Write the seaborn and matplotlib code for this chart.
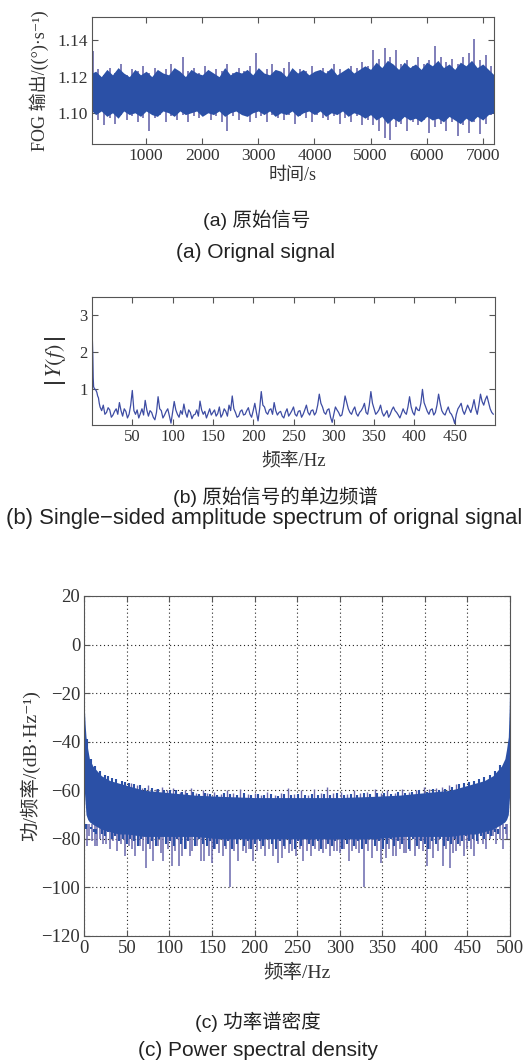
import matplotlib
matplotlib.use("Agg")
import matplotlib.pyplot as plt
import seaborn as sns

# ---------------- (a) 原始信号 ----------------
# 尖峰: 采样时刻 (s) 及上/下峰值
t_a = [50, 150, 250, 350, 450, 550, 650, 750, 850, 950,
       1050, 1150, 1250, 1350, 1450, 1550, 1650, 1750, 1850, 1950,
       2050, 2150, 2250, 2350, 2450, 2550, 2650, 2750, 2850, 2950,
       3050, 3150, 3250, 3350, 3450, 3550, 3650, 3750, 3850, 3950,
       4050, 4150, 4250, 4350, 4450, 4550, 4650, 4750, 4850, 4950,
       5050, 5150, 5250, 5350, 5450, 5550, 5650, 5750, 5850, 5950,
       6050, 6150, 6250, 6350, 6450, 6550, 6650, 6750, 6850, 6950,
       7050, 7150]
hi_a = [1.134, 1.124, 1.121, 1.125, 1.122, 1.127, 1.121, 1.124, 1.123, 1.126,
        1.122, 1.125, 1.121, 1.124, 1.127, 1.122, 1.131, 1.123, 1.125, 1.122,
        1.126, 1.121, 1.124, 1.123, 1.127, 1.122, 1.125, 1.123, 1.126, 1.133,
        1.122, 1.124, 1.127, 1.122, 1.125, 1.128, 1.122, 1.124, 1.123, 1.126,
        1.122, 1.125, 1.123, 1.127, 1.124, 1.122, 1.126, 1.125, 1.128, 1.126,
        1.135, 1.130, 1.136, 1.131, 1.135, 1.127, 1.129, 1.126, 1.131, 1.127,
        1.129, 1.137, 1.131, 1.128, 1.130, 1.127, 1.131, 1.133, 1.141, 1.129,
        1.132, 1.126]
lo_a = [1.101, 1.096, 1.093, 1.097, 1.094, 1.099, 1.096, 1.098, 1.095, 1.097,
        1.090, 1.097, 1.099, 1.095, 1.098, 1.096, 1.099, 1.095, 1.098, 1.097,
        1.099, 1.096, 1.098, 1.095, 1.090, 1.098, 1.096, 1.099, 1.095, 1.097,
        1.098, 1.095, 1.099, 1.097, 1.096, 1.099, 1.094, 1.098, 1.097, 1.095,
        1.099, 1.097, 1.096, 1.098, 1.094, 1.097, 1.095, 1.098, 1.093, 1.096,
        1.093, 1.090, 1.086, 1.085, 1.092, 1.094, 1.090, 1.095, 1.093, 1.096,
        1.089, 1.092, 1.094, 1.090, 1.095, 1.087, 1.093, 1.089, 1.095, 1.088,
        1.094, 1.099]
# 实心主带 (锯齿边缘)
band_t_a = [35, 100, 200, 300, 400, 500, 600, 700, 800, 900, 1000,
            1100, 1200, 1300, 1400, 1500, 1600, 1700, 1800, 1900, 2000,
            2100, 2200, 2300, 2400, 2500, 2600, 2700, 2800, 2900, 3000,
            3100, 3200, 3300, 3400, 3500, 3600, 3700, 3800, 3900, 4000,
            4100, 4200, 4300, 4400, 4500, 4600, 4700, 4800, 4900, 5000,
            5100, 5200, 5300, 5400, 5500, 5600, 5700, 5800, 5900, 6000,
            6100, 6200, 6300, 6400, 6500, 6600, 6700, 6800, 6900, 7000,
            7100, 7200]
band_hi_a = [1.122,
             1.123, 1.120, 1.124, 1.121, 1.125, 1.122, 1.120, 1.124, 1.121, 1.123,
             1.120, 1.124, 1.122, 1.121, 1.125, 1.123, 1.120, 1.124, 1.122, 1.121,
             1.124, 1.122, 1.120, 1.125, 1.121, 1.123, 1.122, 1.124, 1.121, 1.125,
             1.122, 1.121, 1.124, 1.123, 1.120, 1.125, 1.122, 1.124, 1.121, 1.123,
             1.124, 1.122, 1.125, 1.121, 1.123, 1.125, 1.122, 1.124, 1.126, 1.124,
             1.128, 1.125, 1.129, 1.127, 1.124, 1.128, 1.125, 1.127, 1.124, 1.128,
             1.126, 1.129, 1.125, 1.127, 1.124, 1.128, 1.126, 1.129, 1.125, 1.127,
             1.124, 1.121]
band_lo_a = [1.101,
             1.099, 1.101, 1.098, 1.100, 1.097, 1.101, 1.099, 1.100, 1.098, 1.101,
             1.099, 1.098, 1.101, 1.100, 1.098, 1.101, 1.099, 1.100, 1.101, 1.098,
             1.100, 1.099, 1.101, 1.098, 1.100, 1.101, 1.099, 1.098, 1.100, 1.101,
             1.099, 1.101, 1.098, 1.100, 1.099, 1.101, 1.098, 1.100, 1.101, 1.099,
             1.101, 1.098, 1.100, 1.099, 1.101, 1.098, 1.100, 1.099, 1.097, 1.099,
             1.096, 1.098, 1.094, 1.097, 1.095, 1.098, 1.096, 1.097, 1.095, 1.098,
             1.096, 1.097, 1.095, 1.098, 1.096, 1.094, 1.097, 1.095, 1.098, 1.096,
             1.099, 1.100]

# ---------------- (b) 单边频谱 ----------------
f_b = [0, 0.5, 1, 1.5, 2, 3, 4, 5, 6, 7, 8, 9, 10, 11, 12,
       14, 16, 18, 20, 22, 24, 26, 28, 30, 32,
       34, 36, 38, 40, 42, 44, 46, 48, 50, 52,
       54, 56, 58, 60, 62, 64, 66, 68, 70, 72,
       74, 76, 78, 80, 82, 84, 86, 88, 90, 92,
       94, 96, 98, 100, 102, 104, 106, 108, 110, 112,
       114, 116, 118, 120, 122, 124, 126, 128, 130, 132,
       134, 136, 138, 140, 142, 144, 146, 148, 150, 152,
       154, 156, 158, 160, 162, 164, 166, 168, 170, 172,
       174, 176, 178, 180, 182, 184, 186, 188, 190, 192,
       194, 196, 198, 200, 202, 204, 206, 208, 210, 212,
       214, 216, 218, 220, 222, 224, 226, 228, 230, 232,
       234, 236, 238, 240, 242, 244, 246, 248, 250, 252,
       254, 256, 258, 260, 262, 264, 266, 268, 270, 272,
       274, 276, 278, 280, 282, 284, 286, 288, 290, 292,
       294, 296, 298, 300, 302, 304, 306, 308, 310, 312,
       314, 316, 318, 320, 322, 324, 326, 328, 330, 332,
       334, 336, 338, 340, 342, 344, 346, 348, 350, 352,
       354, 356, 358, 360, 362, 364, 366, 368, 370, 372,
       374, 376, 378, 380, 382, 384, 386, 388, 390, 392,
       394, 396, 398, 400, 402, 404, 406, 408, 410, 412,
       414, 416, 418, 420, 422, 424, 426, 428, 430, 432,
       434, 436, 438, 440, 442, 444, 446, 448, 450, 452,
       454, 456, 458, 460, 462, 464, 466, 468, 470, 472,
       474, 476, 478, 480, 482, 484, 486, 488, 490, 492,
       494, 496, 498]
amp_b = [2.35, 2.3, 1.9, 1.3, 1.05, 1.0, 0.98, 0.95, 0.9, 0.8, 0.75, 0.6, 0.5, 0.45, 0.4,
         0.55, 0.30, 0.35, 0.48, 0.42, 0.22, 0.28, 0.38, 0.45, 0.30,
         0.62, 0.40, 0.25, 0.45, 0.38, 0.20, 0.30, 0.55, 0.95, 0.40,
         0.30, 0.42, 0.20, 0.32, 0.45, 0.28, 0.68, 0.42, 0.25, 0.40,
         0.35, 0.22, 0.15, 0.35, 0.78, 0.45, 0.40, 0.20, 0.28, 0.38,
         0.45, 0.25, 0.06, 0.35, 0.65, 0.42, 0.30, 0.22, 0.40, 0.30,
         0.58, 0.35, 0.22, 0.42, 0.35, 0.18, 0.28, 0.30, 0.42, 0.25,
         0.66, 0.42, 0.30, 0.38, 0.20, 0.32, 0.45, 0.28, 0.35, 0.42,
         0.25, 0.32, 0.50, 0.22, 0.30, 0.45, 0.38, 0.25, 0.55, 0.40,
         0.80, 0.45, 0.35, 0.22, 0.25, 0.38, 0.42, 0.28, 0.30, 0.40,
         0.48, 0.30, 0.22, 0.40, 0.60, 0.35, 0.12, 0.45, 0.92, 0.55,
         0.50, 0.35, 0.30, 0.42, 0.45, 0.30, 0.62, 0.40, 0.28, 0.35,
         0.38, 0.25, 0.20, 0.35, 0.45, 0.25, 0.32, 0.40, 0.50, 0.30,
         0.25, 0.38, 0.40, 0.22, 0.30, 0.42, 0.55, 0.35, 0.28, 0.40,
         0.42, 0.28, 0.35, 0.55, 0.85, 0.60, 0.50, 0.35, 0.30, 0.42,
         0.45, 0.22, 0.08, 0.30, 0.50, 0.42, 0.35, 0.25, 0.28, 0.50,
         0.80, 0.62, 0.45, 0.35, 0.30, 0.42, 0.50, 0.32, 0.25, 0.35,
         0.40, 0.48, 0.60, 0.35, 0.30, 0.55, 0.92, 0.60, 0.45, 0.30,
         0.35, 0.42, 0.55, 0.35, 0.25, 0.32, 0.40, 0.22, 0.30, 0.42,
         0.50, 0.40, 0.35, 0.28, 0.20, 0.32, 0.45, 0.35, 0.30, 0.50,
         0.78, 0.50, 0.35, 0.28, 0.50, 0.42, 0.40, 0.60, 0.98, 0.62,
         0.50, 0.38, 0.30, 0.42, 0.45, 0.28, 0.35, 0.55, 0.85, 0.60,
         0.40, 0.32, 0.28, 0.40, 0.50, 0.35, 0.30, 0.20, 0.05, 0.30,
         0.45, 0.52, 0.60, 0.40, 0.30, 0.42, 0.55, 0.45, 0.35, 0.50,
         0.70, 0.45, 0.30, 0.55, 0.85, 0.65, 0.55, 0.70, 0.80, 0.62,
         0.45, 0.35, 0.30]

# ---------------- (c) 功率谱密度 ----------------
band_f = [0, 1, 2, 4, 6, 10, 15, 20, 30, 40, 50, 70, 100, 130, 160, 200, 250,
          300, 340, 370, 400, 430, 450, 460, 470, 480, 485, 490, 494, 496, 498, 499, 500]
band_hi = [-26, -33, -38, -43, -47, -50, -52, -54, -56, -57, -58, -60, -61, -62, -62.5, -63, -63,
           -63, -62.5, -62, -61, -60, -58, -57, -56, -54, -52, -50, -47, -43, -38, -27, -8]
band_lo = [-60, -65, -70, -72, -73, -74, -75, -76, -77, -78, -78, -79, -79, -79, -80, -80, -80,
           -80, -80, -79, -79, -79, -78, -78, -77, -76, -75, -74, -73, -72, -70, -65, -60]
# 向下的长尖峰
down_f = [1, 3, 6, 9, 12, 15, 19, 22, 26, 30,
          34, 38, 43, 48, 52, 56, 60, 65, 69, 72,
          77, 81, 86, 90, 93, 98, 103, 107, 111, 115,
          120, 124, 127, 132, 137, 141, 146, 150, 154, 158,
          163, 167, 171, 176, 181, 186, 190, 194, 198, 203,
          208, 212, 217, 222, 227, 232, 236, 240, 244, 249,
          253, 257, 262, 266, 271, 276, 280, 284, 288, 293,
          297, 300, 305, 311, 315, 319, 323, 329, 333, 338,
          344, 349, 354, 358, 362, 366, 371, 375, 378, 383,
          388, 393, 398, 402, 406, 410, 415, 421, 425, 429,
          433, 437, 441, 446, 450, 454, 458, 463, 468, 472,
          476, 480, 484, 488, 492, 495, 497, 499]
down_v = [-76, -83, -79, -81, -83, -83, -80, -82, -82, -84,
          -81, -85, -82, -87, -83, -84, -87, -83, -85, -92,
          -84, -89, -83, -86, -89, -84, -91, -85, -91, -87,
          -84, -87, -85, -83, -89, -89, -87, -90, -84, -86,
          -87, -84, -100, -85, -89, -85, -86, -84, -89, -85,
          -84, -87, -84, -87, -90, -88, -84, -86, -85, -87,
          -84, -89, -85, -87, -84, -85, -86, -84, -87, -85,
          -85, -86, -84, -89, -85, -84, -86, -100, -85, -88,
          -85, -90, -88, -84, -87, -87, -84, -86, -86, -85,
          -87, -84, -85, -91, -84, -88, -85, -91, -84, -92,
          -86, -85, -83, -87, -84, -84, -87, -82, -82, -84,
          -80, -79, -82, -80, -84, -78, -80, -74]
# 下边缘的短毛刺
down2_f = [2, 5, 8, 11, 14, 17, 21, 24, 28, 32,
           36, 41, 46, 50, 54, 58, 63, 67, 75, 79,
           84, 88, 96, 101, 105, 109, 113, 118, 122, 130,
           135, 139, 144, 148, 152, 156, 161, 165, 169, 174,
           179, 184, 188, 192, 196, 201, 206, 210, 215, 220,
           225, 230, 234, 238, 242, 247, 251, 255, 260, 264,
           269, 274, 278, 282, 286, 291, 295, 303, 308, 313,
           317, 321, 326, 331, 336, 341, 346, 351, 356, 360,
           364, 369, 373, 381, 386, 391, 396, 400, 404, 408,
           413, 418, 423, 427, 431, 435, 439, 444, 448, 452,
           456, 461, 466, 470, 474, 478, 482, 486, 490, 494]
down2_v = [-74, -76, -75, -77, -78, -76, -78, -79, -77, -80,
           -79, -81, -80, -82, -80, -81, -83, -80, -82, -81,
           -83, -80, -82, -81, -83, -80, -82, -84, -81, -83,
           -80, -82, -83, -81, -84, -82, -80, -83, -81, -84,
           -82, -80, -83, -81, -84, -82, -81, -83, -80, -82,
           -84, -81, -83, -80, -82, -84, -81, -83, -80, -82,
           -83, -81, -84, -80, -82, -83, -81, -84, -82, -80,
           -83, -81, -84, -82, -80, -83, -81, -84, -82, -80,
           -83, -81, -82, -84, -80, -83, -81, -82, -84, -81,
           -82, -80, -83, -81, -82, -80, -82, -81, -79, -81,
           -80, -81, -79, -80, -78, -79, -77, -78, -76, -75]
# 上边缘的毛刺
up_f = [55, 62, 68, 75, 84, 91, 97, 104, 112, 118,
        125, 131, 139, 144, 152, 160, 168, 175, 183, 192,
        200, 207, 215, 224, 231, 239, 246, 255, 263, 270,
        278, 285, 292, 301, 309, 317, 324, 332, 341, 348,
        356, 365, 373, 381, 390, 399, 405, 413, 420, 428, 436]
up_v = [-57, -58, -59, -58, -59.5, -58.5, -60, -59, -60.5, -60,
        -59, -61, -60, -61, -60.5, -61.5, -60, -61, -59.5, -61.5,
        -61, -62, -60.5, -62, -61, -59, -61.5, -60, -62, -59.5,
        -61, -58.5, -61, -60.5, -61.5, -60, -61, -60.5, -59.5, -61,
        -60, -61, -59.5, -60.5, -60, -58.5, -59.5, -59, -58.5, -58, -57.5]
up2_f = [3, 8, 13, 18, 24, 28, 33, 37, 44, 48,
         53, 58, 65, 71, 79, 87, 94, 101, 108, 115,
         121, 128, 135, 142, 148, 156, 164, 171, 179, 187,
         196, 204, 211, 219, 227, 235, 243, 251, 259, 267,
         274, 282, 289, 297, 305, 313, 320, 328, 336, 344,
         352, 360, 369, 377, 385, 393, 402, 410, 417, 424,
         432, 440, 446, 452, 458, 464, 470, 476, 482, 488]
up2_v = [-39, -47, -50, -52, -53.5, -54, -55, -55.5, -56, -56.5,
         -57, -57.5, -58, -59, -59, -59.5, -60, -60, -60, -60.5,
         -61, -60.5, -61.5, -61, -61.5, -62, -61, -61.5, -62, -61,
         -62, -61.5, -62, -61.5, -62.5, -61.5, -62, -61.5, -62, -61.5,
         -62, -61.5, -62, -61, -62, -61.5, -62, -61, -61.5, -61,
         -61, -61.5, -60.5, -61, -60.5, -60, -60.5, -59.5, -60, -59.5,
         -58.5, -57.5, -57, -56.5, -56, -55.5, -54.5, -53.5, -52, -49.5]

a_xticks = [1000, 2000, 3000, 4000, 5000, 6000, 7000]
a_yticks = [1.10, 1.12, 1.14]
b_xticks = [50, 100, 150, 200, 250, 300, 350, 400, 450]
b_yticks = [1, 2, 3]
c_xticks = [0, 50, 100, 150, 200, 250, 300, 350, 400, 450, 500]
c_yticks = [-120, -100, -80, -60, -40, -20, 0, 20]

sns.set_theme(style="white")
plt.rcParams['font.family'] = ['Liberation Serif', 'DejaVu Serif', 'Noto Sans CJK SC']
plt.rcParams['mathtext.fontset'] = 'stix'
plt.rcParams['axes.unicode_minus'] = True

W, H = 529, 1064
fig = plt.figure(figsize=(W / 100, H / 100), dpi=100)


def rect(l, t, r, b):
    return [l / W, 1 - b / H, (r - l) / W, (b - t) / H]


BLUE = '#2b50a6'
SPIKE = '#6a68ad'
FRAME = '#555555'
TXT = '#333333'
CAP = ['Liberation Sans', 'Noto Sans CJK SC']


def style_axes(ax, size):
    for s in ax.spines.values():
        s.set_color(FRAME)
        s.set_linewidth(0.8)
        s.set_zorder(5)
    ax.tick_params(direction='in', length=4, width=0.8, colors=FRAME,
                   labelcolor=TXT, labelsize=size, top=True, right=True,
                   bottom=True, left=True, pad=3)


def caption(x, y, s, size):
    fig.text(x / W, 1 - y / H, s, ha='center', va='center', fontsize=size,
             family=CAP, color='#222222')


# ---- 图 (a) ----
ax1 = fig.add_axes(rect(92, 17, 494, 143.5))
ax1.vlines(t_a, lo_a, hi_a, color=SPIKE, linewidth=1.2, zorder=1)
ax1.fill_between(band_t_a, band_lo_a, band_hi_a, color=BLUE, linewidth=0, zorder=2)
ax1.set_xlim(35, 7200)
ax1.set_ylim(1.083, 1.153)
ax1.set_xticks(a_xticks)
ax1.set_yticks(a_yticks)
ax1.set_yticklabels(['%.2f' % v for v in a_yticks])
style_axes(ax1, 12.5)
ax1.set_xlabel('时间/s', fontsize=13, color=TXT, va='center')
ax1.xaxis.set_label_coords(0.5, (143.5 - 175) / 126.5)
ax1.set_ylabel('FOG 输出/((°)·s⁻¹)', fontsize=13, color=TXT, va='center')
ax1.yaxis.set_label_coords((39 - 92) / 402, 0.5)
caption(257, 220, '(a) 原始信号', 14)
caption(256, 253, '(a) Orignal signal', 15)

# ---- 图 (b) ----
ax2 = fig.add_axes(rect(92, 297, 495, 425.3))
sns.lineplot(x=f_b, y=amp_b, ax=ax2, color='#3d4ca3', linewidth=0.9)
ax2.set_xlim(0, 500)
ax2.set_ylim(0, 3.5)
ax2.set_xticks(b_xticks)
ax2.set_yticks(b_yticks)
style_axes(ax2, 12)
ax2.set_xlabel('频率/Hz', fontsize=13.5, color=TXT, va='center')
ax2.xaxis.set_label_coords(0.5, (425.3 - 462) / 128.3)
ax2.set_ylabel(r'$\left|\,Y(f)\,\right|$', fontsize=16, color=TXT, va='center')
ax2.yaxis.set_label_coords((56 - 92) / 403, 0.5)
caption(275, 497, '(b) 原始信号的单边频谱', 14)
caption(264, 519, '(b) Single−sided amplitude spectrum of orignal signal', 15.8)

# ---- 图 (c) ----
ax3 = fig.add_axes(rect(84.3, 596, 510, 936))
ax3.grid(True, color='#222222', linestyle=(0, (1, 2.5)), linewidth=0.8)
ax3.set_axisbelow(True)
ax3.vlines(down_f, down_v, [-74] * len(down_f), color=SPIKE, linewidth=1.1, zorder=1)
ax3.vlines(up_f, [-66] * len(up_f), up_v, color=SPIKE, linewidth=1.0, zorder=1)
ax3.fill_between(band_f, band_lo, band_hi, color=BLUE, linewidth=0, zorder=2)
ax3.vlines(down2_f, down2_v, [-76] * len(down2_f), color=BLUE, linewidth=1.5, zorder=3)
ax3.vlines(up2_f, [-66] * len(up2_f), up2_v, color=BLUE, linewidth=1.5, zorder=3)
ax3.set_xlim(0, 500)
ax3.set_ylim(-120, 20)
ax3.set_xticks(c_xticks)
ax3.set_yticks(c_yticks)
style_axes(ax3, 13.5)
ax3.set_xlabel('频率/Hz', fontsize=14, color=TXT, va='center')
ax3.xaxis.set_label_coords(0.5, (936 - 973) / 340)
ax3.set_ylabel('功/频率/(dB·Hz⁻¹)', fontsize=14, color=TXT, va='center')
ax3.yaxis.set_label_coords((30 - 84.3) / 425.7, 0.5)
caption(258, 1022, '(c) 功率谱密度', 14)
caption(258, 1051, '(c) Power spectral density', 15)

fig.savefig('out.png', dpi=100)
